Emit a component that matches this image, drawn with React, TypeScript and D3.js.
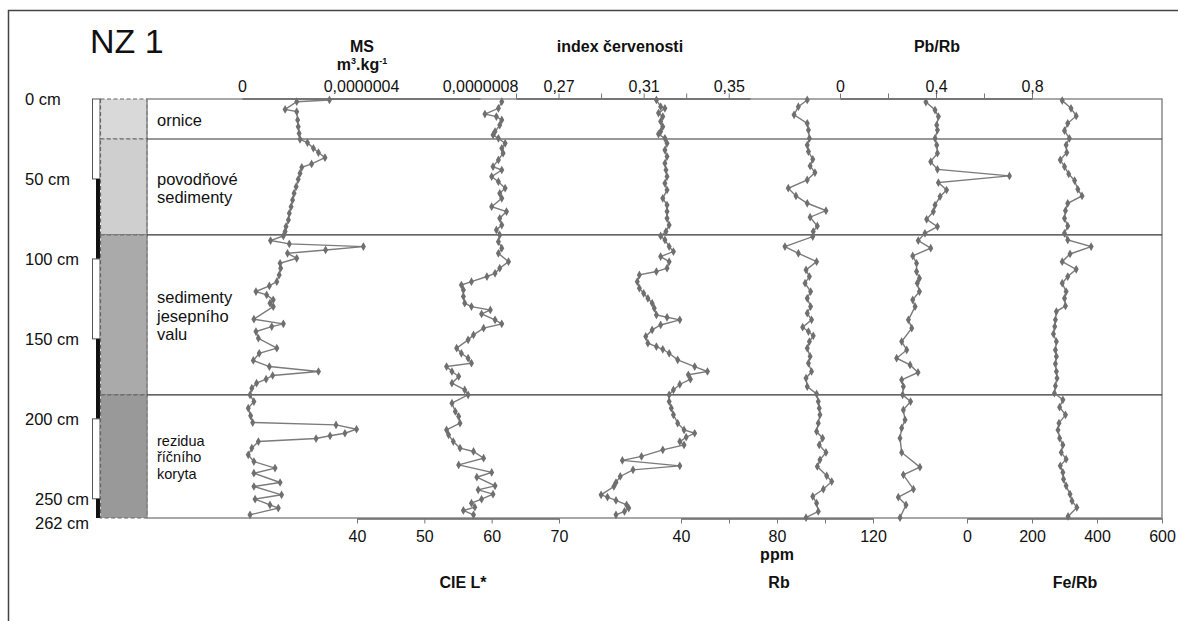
import React, { useEffect, useRef } from "react";
import * as d3 from "d3";

const W = 1178;
const H = 621;

// depth profile NZ 1, depth in cm
const maxDepth = 262;
const depthLabels = [0, 50, 100, 150, 200, 250, 262];
const depthBarBreaks = [0, 50, 100, 150, 200, 250, 262];
const layerBounds = [0, 25, 85, 185, 262];
const layerNames = [
  ["ornice"],
  ["povodňové", "sedimenty"],
  ["sedimenty", "jesepního", "valu"],
  ["rezidua", "říčního", "koryta"],
];
const layerFills = ["#d9d9d9", "#cfcfcf", "#aaaaaa", "#999999"];

// MS in 10^-7 m3.kg-1 : [depth, value]
const msPoints = [
  [0.6, 2.94], [1.7, 1.84], [6.5, 1.45], [7.9, 1.84], [13.1, 1.87], [17.3, 1.89], [21.5, 1.92],
  [25.2, 1.95], [27.3, 2.2], [30.8, 2.4], [33.5, 2.57], [36.7, 2.79], [40.6, 2.34], [42.7, 2.01],
  [46.5, 1.95], [50.2, 1.89], [54.8, 1.82], [59, 1.75], [63.1, 1.7], [67.3, 1.65], [71.5, 1.59],
  [75.6, 1.56], [79.8, 1.48], [82.9, 1.45], [85.6, 1.39], [88.5, 0.96], [90.6, 1.59], [92.3, 4.08],
  [94.4, 2.81], [96.5, 1.53], [99.6, 1.84], [102.7, 1.28], [105.8, 1.3], [110, 1.25], [114.2, 1.17],
  [116.9, 0.92], [120.4, 0.47], [122.5, 0.83], [125.6, 1.05], [127.7, 0.94], [129.8, 1.05],
  [137.7, 0.4], [140.6, 1.39], [142.3, 1.0], [145.4, 0.47], [149.6, 0.55], [155.8, 1.17],
  [159, 0.58], [163.5, 0.38], [167.3, 0.92], [170.4, 2.57], [172.9, 1.03], [175.2, 0.81],
  [177.7, 0.49], [180.8, 0.33], [185, 0.27], [189.2, 0.4], [193.3, 0.21], [198.1, 0.29],
  [202.3, 0.36], [203.8, 3.16], [206.5, 3.85], [209, 3.46], [210.6, 2.96], [212.3, 2.49],
  [214.2, 0.55], [218.3, 0.33], [222.5, 0.21], [226.7, 0.4], [230.8, 1.11], [234, 0.4],
  [239.8, 1.28], [242.3, 0.4], [247.5, 1.33], [250.2, 0.44], [253.8, 0.94], [255.8, 1.22], [260, 0.27],
];

// CIE L*
const ciePoints = [
  [1.7, 61.5], [5.8, 61.0], [9.4, 59.0], [11.0, 60.7], [13.1, 61.5], [16.3, 61.2], [20.4, 60.5],
  [22.5, 60.2], [24.6, 61.0], [27.7, 62.0], [30.8, 61.5], [33.9, 61.7], [38.1, 61.0], [42.3, 60.2],
  [44.4, 61.5], [48.5, 60.0], [51.7, 61.0], [55.8, 62.0], [59.0, 61.2], [62.1, 61.5], [67.3, 60.0],
  [70.4, 62.2], [74.6, 61.2], [78.8, 61.5], [81.9, 60.7], [85.0, 61.2], [89.2, 61.0], [93.3, 61.5],
  [96.5, 61.0], [101.7, 62.5], [105.8, 61.2], [109.0, 60.5], [111.0, 59.3], [114.2, 57.0],
  [116.3, 55.5], [119.4, 55.8], [123.5, 55.8], [127.7, 56.0], [129.8, 57.0], [131.9, 59.8],
  [134.4, 58.5], [138.1, 60.5], [140.6, 61.5], [143.3, 58.8], [147.5, 57.3], [150.6, 56.5],
  [155.8, 54.8], [159.0, 55.5], [162.1, 56.5], [165.2, 57.0], [167.3, 53.3], [170.4, 54.1],
  [173.5, 55.1], [177.7, 54.1], [181.9, 56.0], [185.0, 56.5], [190.2, 54.1], [195.4, 54.6],
  [198.5, 55.1], [202.7, 55.3], [206.9, 53.3], [210.0, 53.6], [214.2, 54.3], [218.3, 55.3],
  [220.4, 57.3], [224.6, 58.8], [228.8, 55.1], [233.5, 60.0], [236.5, 57.8], [241.9, 60.5],
  [244.4, 58.0], [247.1, 60.2], [250.2, 58.5], [252.7, 57.0], [255.2, 57.5], [257.3, 55.8], [260.0, 57.3],
];

// index červenosti
const redPoints = [
  [0.6, 0.316], [4.8, 0.318], [5.8, 0.32], [8.8, 0.317], [11.0, 0.319], [14.0, 0.318], [17.3, 0.319],
  [20.4, 0.318], [21.9, 0.317], [24.6, 0.32], [27.7, 0.321], [31.9, 0.32], [36.0, 0.321], [40.2, 0.32],
  [44.4, 0.3205], [48.5, 0.321], [52.7, 0.32], [56.9, 0.321], [62.1, 0.319], [66.3, 0.321],
  [70.4, 0.321], [74.6, 0.321], [78.8, 0.322], [82.9, 0.3205], [85.6, 0.318], [88.1, 0.32],
  [92.3, 0.322], [95.4, 0.324], [98.5, 0.318], [101.7, 0.322], [105.8, 0.321], [107.9, 0.316],
  [110.0, 0.308], [114.2, 0.307], [118.3, 0.308], [121.5, 0.31], [124.6, 0.312], [127.7, 0.314],
  [130.8, 0.315], [135.0, 0.316], [136.5, 0.321], [138.1, 0.327], [141.3, 0.318], [144.4, 0.314],
  [148.5, 0.311], [152.7, 0.312], [154.8, 0.316], [156.5, 0.319], [159.0, 0.322], [163.1, 0.326],
  [167.3, 0.334], [170.4, 0.34], [172.5, 0.331], [175.2, 0.332], [178.5, 0.327], [181.9, 0.324],
  [185.0, 0.322], [189.2, 0.322], [193.3, 0.323], [197.5, 0.324], [202.7, 0.326], [206.9, 0.329],
  [209.0, 0.334], [211.5, 0.33], [214.2, 0.327], [216.3, 0.329], [219.4, 0.319], [223.5, 0.309],
  [226.0, 0.3], [229.4, 0.327], [231.9, 0.305], [236.0, 0.299], [239.8, 0.297], [242.3, 0.296],
  [247.5, 0.29], [248.9, 0.293], [251.0, 0.297], [253.8, 0.302], [255.8, 0.303], [257.9, 0.301], [260.0, 0.297],
];

// Rb ppm
const rbPoints = [
  [0.6, 92.6], [4.8, 88.9], [9.9, 87.1], [15.2, 92.6], [19.4, 93.1], [24.6, 93.5], [28.8, 92.6],
  [32.9, 93.1], [37.7, 94.9], [41.9, 93.8], [46.0, 95.8], [50.6, 92.6], [55.8, 84.7], [60.6, 87.9],
  [65.2, 92.6], [69.8, 100.4], [73.9, 93.8], [79.4, 96.8], [82.9, 95.1], [86.0, 94.9], [92.3, 83.3],
  [96.5, 88.9], [101.7, 96.5], [106.9, 92.1], [111.0, 93.5], [115.2, 91.7], [120.4, 94.0],
  [124.6, 92.6], [129.8, 94.0], [133.9, 92.6], [138.1, 94.4], [142.7, 90.7], [145.4, 93.1],
  [148.1, 95.1], [151.7, 93.5], [155.8, 92.6], [161.0, 93.8], [165.2, 93.1], [170.4, 94.4],
  [174.6, 92.1], [179.8, 92.6], [184.4, 96.5], [189.2, 97.2], [193.3, 97.6], [197.5, 97.9],
  [202.7, 97.2], [207.9, 96.5], [212.1, 99.0], [216.3, 97.6], [221.0, 100.4], [225.6, 97.9],
  [229.8, 96.8], [235.6, 100.7], [239.2, 102.8], [244.0, 99.3], [248.5, 94.9], [252.7, 96.5],
  [257.9, 97.2], [261.8, 92.1],
];

// Pb/Rb
const pbPoints = [
  [1.9, 0.358], [6.9, 0.396], [11.0, 0.41], [16.3, 0.403], [19.4, 0.406], [24.6, 0.396], [28.8, 0.403],
  [33.9, 0.406], [39.2, 0.378], [44.0, 0.406], [48.1, 0.706], [52.3, 0.41], [56.9, 0.444], [61.0, 0.417],
  [66.3, 0.396], [70.4, 0.389], [75.2, 0.361], [79.8, 0.406], [84.0, 0.354], [88.5, 0.326],
  [93.3, 0.378], [98.1, 0.303], [102.7, 0.319], [107.9, 0.319], [112.1, 0.331], [115.2, 0.322],
  [120.4, 0.331], [125.6, 0.303], [129.8, 0.313], [138.1, 0.285], [143.3, 0.299], [151.7, 0.257],
  [156.9, 0.278], [162.1, 0.236], [166.3, 0.292], [171.0, 0.325], [175.6, 0.257], [179.8, 0.264],
  [185.0, 0.261], [189.2, 0.294], [194.4, 0.264], [200.6, 0.271], [205.8, 0.257], [212.1, 0.25],
  [221.0, 0.257], [230.2, 0.333], [235.0, 0.264], [244.0, 0.306], [249.0, 0.243], [253.8, 0.275], [261.8, 0.25],
];

// Fe/Rb
const fePoints = [
  [1.0, 293], [5.8, 320], [10.6, 336], [15.2, 310], [19.8, 300], [24.6, 315], [28.8, 305], [33.5, 307],
  [38.1, 287], [42.3, 300], [46.9, 313], [51.0, 331], [56.5, 341], [60.6, 354], [65.2, 310], [69.8, 303],
  [74.6, 300], [79.4, 310], [84.0, 300], [88.1, 310], [92.3, 382], [96.9, 317], [101.7, 293],
  [106.5, 336], [111.0, 310], [115.2, 293], [120.4, 305], [124.6, 300], [129.4, 303], [132.9, 275],
  [138.1, 272], [142.3, 270], [146.9, 266], [151.7, 275], [156.9, 272], [161.0, 275], [165.6, 272],
  [170.4, 275], [174.6, 277], [179.4, 272], [184.0, 269], [188.1, 295], [192.7, 285], [197.5, 303],
  [202.7, 283], [206.9, 280], [212.1, 285], [216.3, 295], [221.0, 290], [225.2, 305], [229.4, 287],
  [233.5, 295], [237.7, 297], [241.9, 305], [247.1, 317], [251.3, 323], [255.4, 338], [261.0, 311],
];

// axis ticks
const msTicks = [0, 4, 8];
const msTickLabels = ["0", "0,0000004", "0,0000008"];
const redTicks = [0.25, 0.27, 0.29, 0.31, 0.33, 0.35];
const redLabelled = [0.27, 0.31, 0.35];
const pbTicks = [0, 0.2, 0.4, 0.6, 0.8];
const pbLabelled = [0, 0.4, 0.8];
const cieTicks = [40, 50, 60, 70];
const rbTicks = [40, 60, 80, 100, 120];
const rbLabelled = [40, 80, 120];
const feTicks = [0, 200, 400, 600];

const FONT = "'Liberation Sans', Arial, Helvetica, sans-serif";
const comma = (v: number) => String(+v.toFixed(2)).replace(".", ",");

const App = () => {
  const svgRef = useRef<SVGSVGElement>(null);

  useEffect(() => {
    const svg = d3.select(svgRef.current);
    svg.selectAll("*").remove();
    svg.style("font-family", FONT);

    const top = 99;
    const bottom = 518;
    const boxLeft = 147;
    const boxRight = 1162;

    const y = d3.scaleLinear().domain([0, maxDepth]).range([top, bottom]);

    // x scales of the six curves
    const msX = d3.scaleLinear().domain([0, 8]).range([242, 480]);
    const redX = d3.scaleLinear().domain([0.25, 0.36]).range([516, 750]);
    const pbX = d3.scaleLinear().domain([0, 0.8]).range([840, 1032]);
    const cieX = d3.scaleLinear().domain([40, 70]).range([357, 559]);
    const rbX = d3.scaleLinear().domain([40, 120]).range([681, 873]);
    const feX = d3.scaleLinear().domain([0, 600]).range([967, boxRight]);

    // outer frame (only top and left visible)
    svg
      .append("path")
      .attr("d", `M8.5,${H} V10.5 H${W}`)
      .attr("fill", "none")
      .attr("stroke", "#444")
      .attr("stroke-width", 1.5);

    // title
    svg
      .append("text")
      .attr("x", 90)
      .attr("y", 53)
      .style("font-size", "34px")
      .style("fill", "#111")
      .text("NZ 1");

    // depth labels
    svg
      .append("g")
      .selectAll("text")
      .data(depthLabels)
      .join("text")
      .attr("x", (d) => (d >= 250 ? 35 : 25))
      .attr("y", (d) => y(d) + (d === 262 ? 5 : 0))
      .attr("dominant-baseline", "central")
      .style("font-size", "16.5px")
      .style("fill", "#111")
      .text((d) => `${d} cm`);

    // depth bar: white / black alternating
    const segs = d3.pairs(depthBarBreaks);
    svg
      .append("g")
      .selectAll("rect")
      .data(segs)
      .join("rect")
      .attr("x", (_, i) => (i % 2 === 0 ? 92.5 : 96))
      .attr("y", (d) => y(d[0]))
      .attr("width", (_, i) => (i % 2 === 0 ? 7.5 : 4))
      .attr("height", (d) => y(d[1]) - y(d[0]))
      .attr("fill", (_, i) => (i % 2 === 0 ? "#fff" : "#111"))
      .attr("stroke", (_, i) => (i % 2 === 0 ? "#555" : "none"))
      .attr("stroke-width", 1);

    // lithology column
    const layers = d3.pairs(layerBounds);
    svg
      .append("g")
      .selectAll("rect")
      .data(layers)
      .join("rect")
      .attr("x", 100.5)
      .attr("y", (d) => y(d[0]))
      .attr("width", 46.5)
      .attr("height", (d) => y(d[1]) - y(d[0]))
      .attr("fill", (_, i) => layerFills[i])
      .attr("stroke", "#666")
      .attr("stroke-width", 1.2)
      .attr("stroke-dasharray", "4,2.5");

    // main box
    svg
      .append("rect")
      .attr("x", boxLeft)
      .attr("y", top)
      .attr("width", boxRight - boxLeft)
      .attr("height", bottom - top)
      .attr("fill", "none")
      .attr("stroke", "#8a8a8a")
      .attr("stroke-width", 1.5);

    // layer boundary lines
    svg
      .append("g")
      .selectAll("line")
      .data(layerBounds.slice(1, -1))
      .join("line")
      .attr("x1", boxLeft)
      .attr("x2", boxRight)
      .attr("y1", (d) => y(d))
      .attr("y2", (d) => y(d))
      .attr("stroke", "#333")
      .attr("stroke-width", 1.2);

    // layer names
    layers.forEach((d, i) => {
      const lines = layerNames[i];
      const small = i === 3;
      const lh = small ? 16.7 : 18.4;
      const mid = (y(d[0]) + y(d[1])) / 2 + 1;
      const t = svg
        .append("text")
        .attr("x", 157)
        .style("font-size", small ? "14.5px" : "16.5px")
        .style("fill", "#111");
      lines.forEach((ln, j) => {
        t.append("tspan")
          .attr("x", 157)
          .attr("y", mid + (j - (lines.length - 1) / 2) * lh)
          .attr("dominant-baseline", "central")
          .text(ln);
      });
    });

    // axes
    const styleAxis = (g, fontSize = "16px") => {
      g.select(".domain").attr("stroke", "#666").attr("stroke-width", 1.5);
      g.selectAll(".tick line").attr("stroke", "#777").attr("stroke-width", 1);
      g.selectAll(".tick text").style("font-size", fontSize).style("font-family", FONT).attr("fill", "#111");
    };

    const topAxis = (scale, ticks, fmt, size = 5, pad = 2) => {
      const g = svg
        .append("g")
        .attr("transform", `translate(0,${top - 0.5})`)
        .call(d3.axisTop(scale).tickValues(ticks).tickFormat(fmt).tickSize(size).tickSizeOuter(0).tickPadding(pad));
      styleAxis(g);
    };
    const bottomAxis = (scale, ticks, fmt) => {
      const g = svg
        .append("g")
        .attr("transform", `translate(0,${bottom + 0.5})`)
        .call(d3.axisBottom(scale).tickValues(ticks).tickFormat(fmt).tickSize(5).tickSizeOuter(0).tickPadding(7));
      styleAxis(g);
    };

    topAxis(msX, msTicks, (d, i) => msTickLabels[i], 0, 7);
    topAxis(redX, redTicks, (d) => (redLabelled.some((v) => Math.abs(v - d) < 1e-9) ? comma(d) : ""));
    topAxis(pbX, pbTicks, (d) => (pbLabelled.some((v) => Math.abs(v - d) < 1e-9) ? comma(d) : ""));
    bottomAxis(cieX, cieTicks, (d) => String(d));
    bottomAxis(rbX, rbTicks, (d) => (rbLabelled.includes(d) ? String(d) : ""));
    bottomAxis(feX, feTicks, (d) => String(d));

    // axis titles
    const title = (x, yy, txt) =>
      svg
        .append("text")
        .attr("x", x)
        .attr("y", yy)
        .attr("text-anchor", "middle")
        .style("font-size", "16px")
        .style("font-weight", "bold")
        .style("fill", "#111")
        .text(txt);

    title(362, 52, "MS");
    const unit = title(362, 70, "m");
    unit.append("tspan").attr("dy", -6).style("font-size", "9px").text("3");
    unit.append("tspan").attr("dy", 6).text(".kg");
    unit.append("tspan").attr("dy", -6).style("font-size", "9px").text("-1");
    title(620, 52, "index červenosti");
    title(937, 52, "Pb/Rb");
    title(777, 560, "ppm");
    title(463, 588, "CIE L*");
    title(779, 588, "Rb");
    title(1075, 588, "Fe/Rb");

    // curves
    const curve = (points, xs) => {
      const g = svg.append("g");
      const line = d3
        .line()
        .x((d) => xs(d[1]))
        .y((d) => y(d[0]));
      g.append("path")
        .attr("d", line(points))
        .attr("fill", "none")
        .attr("stroke", "#7b7b7b")
        .attr("stroke-width", 1.4);
      const sym = d3.symbol().type(d3.symbolDiamond).size(22);
      g.selectAll("path.pt")
        .data(points)
        .join("path")
        .attr("class", "pt")
        .attr("transform", (d) => `translate(${xs(d[1])},${y(d[0])})`)
        .attr("d", sym())
        .attr("fill", "#6f6f6f");
    };

    curve(msPoints, msX);
    curve(ciePoints, cieX);
    curve(redPoints, redX);
    curve(rbPoints, rbX);
    curve(pbPoints, pbX);
    curve(fePoints, feX);
  }, []);

  return (
    <div style={{ position: "fixed", left: 0, top: 0, width: W, height: H, background: "#fff" }}>
      <svg ref={svgRef} width={W} height={H} />
    </div>
  );
};

export default App;
